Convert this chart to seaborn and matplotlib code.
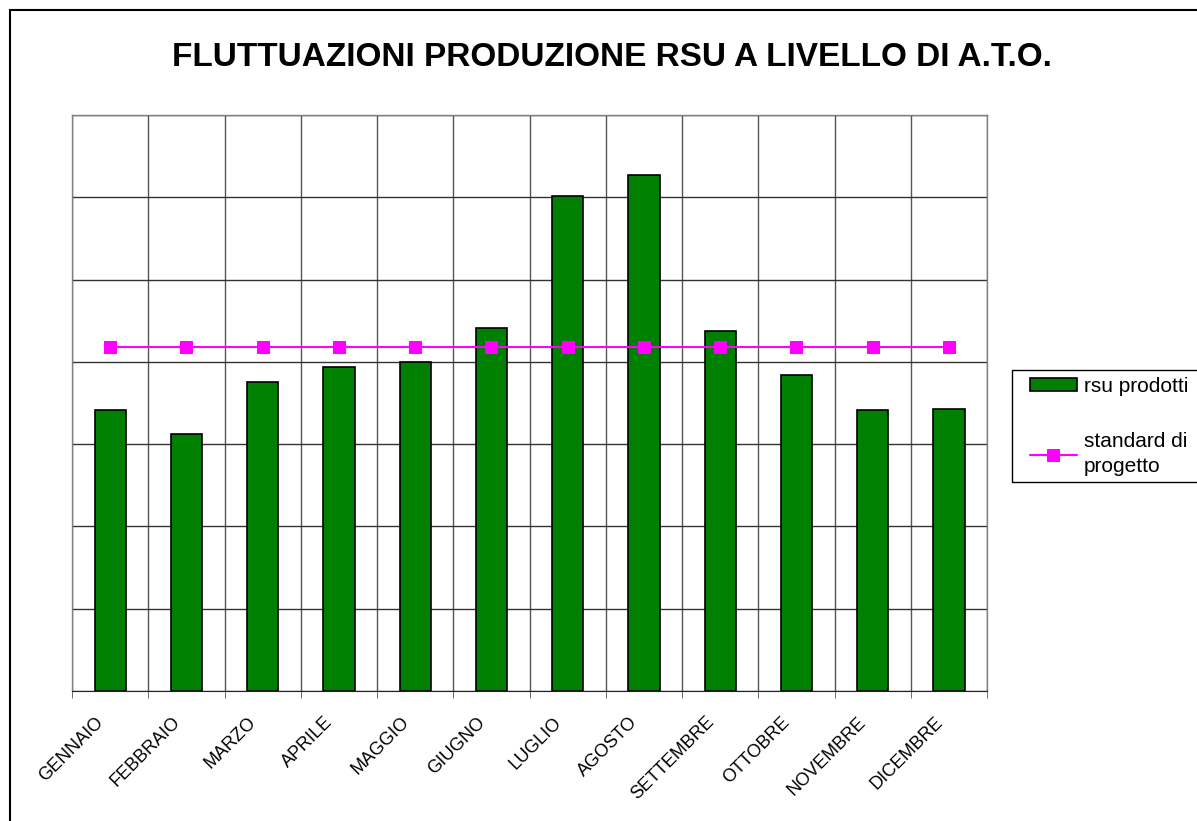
import numpy as np
import pandas as pd
import matplotlib
matplotlib.use('Agg')
import matplotlib.pyplot as plt
import matplotlib.transforms as mtrans
from matplotlib.patches import Rectangle
import seaborn as sns

# Data (unit = one grid step)
mesi = ['GENNAIO', 'FEBBRAIO', 'MARZO', 'APRILE', 'MAGGIO', 'GIUGNO',
        'LUGLIO', 'AGOSTO', 'SETTEMBRE', 'OTTOBRE', 'NOVEMBRE', 'DICEMBRE']
rsu_prodotti = [3.41, 3.12, 3.75, 3.94, 4.00, 4.41, 6.01, 6.27, 4.37, 3.84, 3.41, 3.43]
standard_progetto = [4.18] * 12

df = pd.DataFrame({'mese': mesi, 'rsu': rsu_prodotti, 'standard': standard_progetto})

sns.set_style('white')
plt.rcParams['font.family'] = ['Liberation Sans', 'DejaVu Sans']
plt.rcParams['text.color'] = 'black'
plt.rcParams['xtick.color'] = 'black'
plt.rcParams['xtick.labelcolor'] = 'black'

fig = plt.figure(figsize=(11.97, 8.21), dpi=100)
ax = fig.add_axes([0.0602, 0.1583, 0.7644, 0.7016])

sns.barplot(data=df, x='mese', y='rsu', color='#008000', edgecolor='black',
            linewidth=1.2, width=0.41, saturation=1, ax=ax, label='rsu prodotti', zorder=3)
sns.lineplot(data=df, x='mese', y='standard', color='#ff00ff', lw=1.5, marker='s',
             markersize=8, markeredgecolor='#ff00ff', sort=False, ax=ax,
             label='standard di\nprogetto', zorder=4)

ax.set_xlim(-0.5, 11.5)
ax.set_ylim(0, 7)
ax.set_yticks(np.arange(0, 8))
ax.set_yticklabels([])
ax.set_xlabel('')
ax.set_ylabel('')

# gridlines
ax.set_xticks(np.arange(-0.5, 12, 1), minor=True)
ax.grid(True, axis='y', which='major', color='#333333', lw=1.0, zorder=0)
ax.grid(True, axis='x', which='minor', color='#555555', lw=1.0, zorder=0)
ax.grid(False, axis='x', which='major')
ax.tick_params(axis='x', which='major', length=0, pad=12)
ax.tick_params(axis='x', which='minor', length=5, color='#555555', direction='out', bottom=True)
ax.tick_params(axis='y', length=0)
shift = mtrans.ScaledTranslation(-15 / 100, -6 / 100, fig.dpi_scale_trans)
for lab in ax.get_xticklabels():
    lab.set_rotation(45)
    lab.set_ha('right')
    lab.set_va('top')
    lab.set_rotation_mode('anchor')
    lab.set_fontsize(13)
    lab.set_color('black')
    lab.set_transform(lab.get_transform() + shift)

for s in ['top', 'right', 'left']:
    ax.spines[s].set_color('#808080')
    ax.spines[s].set_linewidth(1.0)
ax.spines['bottom'].set_color('#222222')

fig.text(0.511, 0.930, 'FLUTTUAZIONI PRODUZIONE RSU A LIVELLO DI A.T.O.',
         ha='center', va='center', fontsize=24, fontweight='bold', color='black')

handles, labels = ax.get_legend_handles_labels()
order = [labels.index('rsu prodotti'), labels.index('standard di\nprogetto')]
leg = ax.legend([handles[i] for i in order], [labels[i] for i in order],
                loc='upper left', bbox_to_anchor=(1030 / 1197, 1 - 377 / 821),
                bbox_transform=fig.transFigure, frameon=False,
                fontsize=15, labelspacing=1.75, handlelength=2.25, handleheight=0.6,
                handletextpad=0.35, borderpad=0, borderaxespad=0)
for t in leg.get_texts():
    t.set_color('black')
    t.set_linespacing(1.38)

# legend box
fig.patches.append(Rectangle((1012 / 1197, 1 - 482 / 821), 0.2, 112 / 821,
                             transform=fig.transFigure, fill=False,
                             edgecolor='black', lw=1.0))

# outer chart border
fig.patches.append(Rectangle((10 / 1197, -0.1), 1.2, 1.1 - 10 / 821,
                             transform=fig.transFigure, fill=False,
                             edgecolor='black', lw=1.5))

fig.savefig('out.png', dpi=100)
